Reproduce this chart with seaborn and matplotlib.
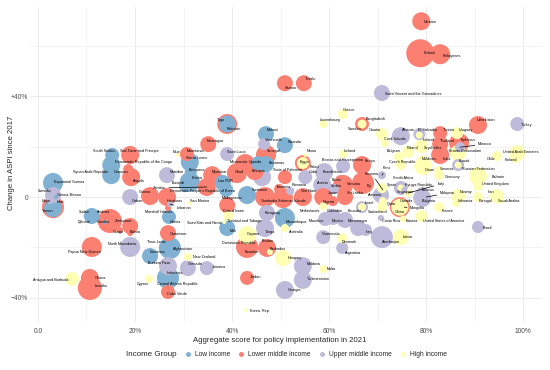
import matplotlib
matplotlib.use("Agg")
import matplotlib.pyplot as plt
from matplotlib.lines import Line2D
from matplotlib.ticker import FixedLocator, FixedFormatter
import pandas as pd
import seaborn as sns

# ---- data ----
countries = [
    "Ukraine", "Kiribati", "Philippines", "Saint Vincent and the Grenadines", "Samoa", "Tuvalu", "Greece", "Luxembourg", "Bangladesh", "Sweden",
    "Togo", "Pakistan", "Malawi", "Rwanda", "Venezuela", "Nicaragua", "Mauritania", "Saint Lucia", "Iceland", "Nauru",
    "Uzbekistan", "Turkey", "Croatia", "Albania", "Cook Islands", "El Salvador", "Ireland", "Tunisia", "Uruguay", "Thailand",
    "Seychelles", "Tajikistan", "Morocco", "Brunei Darussalam", "Poland", "Belgium", "United Arab Emirates", "Chile", "Finland", "Czech Republic",
    "Maldives", "India", "Kuwait", "Russian Federation", "Slovenia", "Oman", "Germany", "Bahrain", "United Kingdom", "Peru",
    "Panama", "South Africa", "Spain", "Singapore", "Kyrgyz Republic", "Italy", "Fiji", "Vanuatu", "Armenia", "Sri Lanka",
    "Belarus", "Malaysia", "Bulgaria", "Norway", "Lithuania", "Iran", "Saudi Arabia", "Portugal", "Israel", "Ecuador",
    "China", "Canada", "Qatar", "Mongolia", "Switzerland", "France", "Costa Rica", "Estonia", "United States of America", "Brazil",
    "Latvia", "Azerbaijan", "Iraq", "Montenegro", "Bosnia and Herzegovina", "Kenya", "Kazakhstan", "Austria", "Benin", "Serbia",
    "Egypt", "Palau", "Cuba", "State of Palestine", "Tanzania", "Romania", "Solomon Islands", "Cambodia", "Viet Nam", "Japan",
    "Nigeria", "Netherlands", "Colombia", "Mexico", "Mauritius", "Guatemala", "Denmark", "Argentina", "Mozambique", "Paraguay",
    "Tonga", "Australia", "Hungary", "Moldova", "Turkmenistan", "Malta", "Georgia", "Jordan", "Korea, Rep.", "Dominican Republic",
    "Eswatini", "Bhutan", "Barbados", "Guyana", "Mali", "Trinidad and Tobago", "Cote d'Ivoire", "Saint Kitts and Nevis", "Madagascar", "Suriname",
    "Ethiopia", "Chad", "Micronesia", "Uganda", "Bahamas", "Senegal", "Myanmar", "Lao PDR", "Democratic People's Republic of Korea", "Zambia",
    "Sierra Leone", "Botswana", "Eritrea", "Burundi", "Namibia", "Sao Tome and Principe", "South Sudan", "Niue", "Democratic Republic of the Congo", "Syrian Arab Republic",
    "Comoros", "Angola", "Equatorial Guinea", "Somalia", "Guinea-Bissau", "Haiti", "Yemen", "Libya", "Sudan", "Djibouti",
    "Andorra", "Gambia", "Zimbabwe", "Congo", "Bolivia", "North Macedonia", "Papua New Guinea", "Timor-Leste", "Cameroon", "Afghanistan",
    "Dominica", "Burkina Faso", "New Zealand", "Grenada", "Jamaica", "Indonesia", "Central African Republic", "Cyprus", "Cabo Verde", "Antigua and Barbuda",
    "Ghana", "Lesotho", "Liberia", "Honduras", "Guinea", "Gabon", "Marshall Islands", "Lebanon", "San Marino",
]

# aggregate score for policy implementation in 2021 (%)
score = [
    79.0, 78.8, 82.9, 70.9, 50.9, 54.8, 62.9, 58.8, 66.8, 66.8,
    39.0, 39.0, 47.0, 50.9, 46.6, 35.1, 30.7, 39.0, 62.9, 55.1,
    90.7, 98.8, 70.9, 74.8, 71.5, 78.6, 78.6, 82.9, 86.4, 82.9,
    79.0, 86.8, 87.0, 86.6, 76.3, 74.4, 98.8, 94.6, 98.4, 74.8,
    79.2, 82.9, 86.6, 86.6, 82.5, 79.4, 82.7, 90.7, 90.7, 70.9,
    71.1, 74.8, 70.9, 74.8, 75.5, 76.3, 67.0, 62.9, 70.7, 63.3,
    79.2, 80.0, 79.2, 86.6, 86.2, 94.6, 95.1, 90.7, 66.8, 66.8,
    74.6, 74.6, 71.1, 75.5, 70.9, 82.7, 70.7, 75.3, 79.0, 90.7,
    74.8, 70.9, 67.6, 66.0, 62.9, 66.8, 59.0, 58.6, 62.3, 61.0,
    54.6, 54.6, 55.1, 50.9, 49.7, 52.0, 50.5, 46.8, 54.6, 58.8,
    60.8, 58.8, 60.8, 63.3, 59.2, 58.8, 62.7, 62.7, 50.9, 47.2,
    46.8, 50.9, 50.5, 54.6, 54.6, 58.8, 50.9, 43.1, 42.9, 43.1,
    43.1, 47.2, 47.8, 43.1, 39.0, 39.2, 39.0, 38.4, 43.1, 46.2,
    44.7, 41.0, 42.7, 45.4, 47.0, 47.0, 35.9, 38.1, 38.8, 34.8,
    31.3, 31.5, 31.3, 30.3, 26.6, 19.0, 15.3, 28.9, 15.1, 15.1,
    18.6, 19.2, 3.1, 3.1, 3.7, 3.1, 3.1, 2.5, 11.1, 11.1,
    14.8, 13.8, 19.0, 16.9, 19.0, 19.0, 11.1, 26.8, 26.8, 27.2,
    23.1, 26.8, 30.9, 30.9, 34.8, 26.8, 26.2, 22.9, 26.8, 7.0,
    10.7, 10.7, 27.0, 26.6, 23.1, 19.0, 26.8, 27.2, 31.3,
]

# change in ASPI since 2017 (%)
change = [
    69.8, 57.1, 56.7, 41.3, 45.2, 45.2, 32.9, 29.0, 29.0, 29.0,
    29.0, 29.0, 25.0, 20.6, 21.0, 21.0, 17.1, 17.1, 17.1, 16.7,
    28.6, 29.0, 25.0, 24.2, 21.4, 25.0, 24.6, 25.4, 25.4, 21.0,
    20.2, 21.4, 19.8, 17.5, 17.9, 15.9, 17.5, 16.3, 15.5, 12.7,
    14.7, 16.7, 12.7, 12.7, 10.7, 12.3, 8.7, 8.3, 4.4, 8.7,
    2.8, 3.6, 3.6, 3.6, 2.8, 1.6, 5.6, 4.8, 0.8, 0.0,
    1.6, 0.0, -0.4, 0.4, -2.4, 0.4, -1.2, 0.0, -4.0, -4.0,
    -4.0, -4.0, -1.6, -4.0, -4.0, -4.0, -8.3, -8.7, -7.5, -11.9,
    -15.9, -15.9, -13.1, -12.3, 12.3, 12.7, 9.9, 4.8, 6.7, 3.2,
    13.5, 13.5, 7.9, 7.9, 3.2, 2.4, -0.4, 0.0, 0.0, 0.0,
    -1.6, -3.6, -7.9, -9.1, -8.7, -15.9, -16.3, -20.2, -8.3, -6.3,
    -12.3, -12.3, -24.2, -27.4, -32.9, -28.6, -36.9, -32.1, -44.8, -19.8,
    -21.0, -20.2, -21.8, -15.1, -12.3, -7.5, -3.2, -9.9, 0.8, 7.9,
    10.3, 9.5, 13.1, 13.5, 13.1, 16.7, 8.7, 5.6, 2.8, 4.0,
    13.9, 9.9, 6.0, 4.4, 8.7, 16.7, 16.7, 16.7, 12.7, 8.7,
    11.1, 7.9, 5.6, 0.8, 0.0, -4.0, -4.4, -2.0, -7.5, -9.1,
    -9.5, -9.9, -11.5, -13.1, -14.3, -19.8, -19.8, -15.1, -14.3, -20.2,
    -23.4, -27.4, -23.8, -28.2, -28.2, -32.1, -33.7, -32.5, -37.7, -32.5,
    -32.1, -36.1, -7.9, 0.0, 0.4, 0.0, -4.4, -2.8, -2.4,
]

# bubble weight (relative, mapped to marker area)
weight = [
    81, 196, 100, 64, 64, 64, 25, 16, 49, 20,
    100, 72, 64, 64, 36, 64, 49, 49, 16, 4,
    81, 49, 36, 81, 16, 36, 12, 49, 36, 64,
    49, 100, 25, 64, 36, 25, 64, 25, 25, 25,
    25, 81, 36, 12, 16, 81, 25, 81, 25, 16,
    9, 49, 25, 12, 9, 16, 121, 100, 64, 64,
    36, 16, 81, 49, 16, 49, 16, 25, 16, 36,
    100, 72, 16, 6, 25, 25, 9, 12, 36, 36,
    64, 121, 36, 64, 49, 81, 81, 81, 25, 25,
    64, 36, 49, 49, 25, 16, 100, 100, 81, 81,
    25, 16, 64, 64, 49, 49, 25, 36, 100, 64,
    81, 16, 64, 81, 81, 16, 81, 49, 4, 121,
    25, 81, 9, 81, 64, 25, 64, 4, 81, 81,
    81, 100, 100, 49, 64, 100, 81, 64, 49, 81,
    81, 36, 100, 36, 64, 81, 49, 4, 81, 81,
    25, 81, 100, 64, 4, 121, 81, 4, 64, 4,
    144, 4, 64, 9, 9, 100, 100, 9, 64, 121,
    64, 81, 16, 64, 49, 121, 9, 16, 49, 49,
    81, 144, 49, 81, 81, 64, 9, 9, 4,
]

income = [
    "LM", "LM", "LM", "UM", "LM", "LM", "H", "H", "LM", "H",
    "LM", "L", "L", "L", "UM", "LM", "LM", "UM", "H", "H",
    "LM", "UM", "H", "UM", "H", "UM", "H", "LM", "H", "LM",
    "H", "LM", "UM", "H", "H", "H", "H", "H", "H", "H",
    "H", "LM", "UM", "H", "H", "H", "H", "H", "H", "UM",
    "H", "UM", "H", "H", "UM", "H", "LM", "LM", "UM", "LM",
    "UM", "UM", "UM", "H", "H", "H", "H", "H", "H", "UM",
    "LM", "H", "H", "H", "H", "H", "UM", "H", "H", "UM",
    "H", "UM", "UM", "UM", "UM", "LM", "UM", "UM", "LM", "UM",
    "LM", "H", "UM", "LM", "LM", "UM", "LM", "LM", "LM", "LM",
    "LM", "H", "UM", "UM", "UM", "UM", "H", "UM", "L", "UM",
    "UM", "H", "H", "UM", "UM", "H", "UM", "LM", "H", "LM",
    "LM", "LM", "H", "H", "L", "H", "LM", "H", "L", "UM",
    "LM", "LM", "LM", "L", "L", "LM", "LM", "L", "L", "LM",
    "L", "L", "L", "L", "UM", "LM", "L", "H", "L", "L",
    "LM", "LM", "L", "UM", "L", "LM", "L", "UM", "L", "L",
    "LM", "L", "LM", "LM", "LM", "UM", "LM", "LM", "LM", "L",
    "L", "UM", "H", "UM", "UM", "L", "L", "H", "LM", "H",
    "LM", "LM", "L", "LM", "LM", "UM", "LM", "UM", "H",
]

group_names = {"L": "Low income", "LM": "Lower middle income",
               "UM": "Upper middle income", "H": "High income"}
group_order = ["Low income", "Lower middle income", "Upper middle income", "High income"]
palette = {"Low income": "#80B1D3", "Lower middle income": "#FB8072",
           "Upper middle income": "#BEBADA", "High income": "#FFFFB3"}

# label placement (pixel offset of the label start from the point, y down)
label_nudge = {
    "Ukraine": (3, 1), "Kiribati": (3, 0), "Philippines": (3, 2), "Saint Vincent and the Grenadines": (3, 1),
    "Samoa": (0, 5), "Tuvalu": (1, -4), "Greece": (0, -4), "Luxembourg": (-3, -4), "Bangladesh": (4, -5),
    "Sweden": (-14, 5), "Togo": (-10, -4), "Pakistan": (0, 5), "Malawi": (1, -4), "Rwanda": (3, -3),
    "Venezuela": (1, -4), "Nicaragua": (-2, -3), "Mauritania": (0, -3), "Saint Lucia": (0, -2),
    "Iceland": (1, -3), "Nauru": (1, -4), "Uzbekistan": (-1, -5), "Turkey": (4, 1), "Croatia": (-13, -4),
    "Albania": (1, -6), "Cook Islands": (-1, -4), "El Salvador": (-1, -4), "Ireland": (3, 5), "Tunisia": (3, -3),
    "Uruguay": (2, -3), "Thailand": (0, -3), "Seychelles": (3, 2), "Tajikistan": (1, -3), "Morocco": (18, -3),
    "Brunei Darussalam": (-9, -2), "Poland": (-1, -4), "Belgium": (-12, -6), "United Arab Emirates": (-14, -1),
    "Chile": (-10, 3), "Finland": (-11, 2), "Czech Republic": (-12, -3), "Maldives": (0, -1), "India": (2, 4),
    "Kuwait": (1, -4), "Russian Federation": (4, 4), "Slovenia": (2, -1), "Oman": (2, 4), "Germany": (6, 2),
    "Bahrain": (14, 1), "United Kingdom": (4, -2), "Peru": (1, -7), "Panama": (-18, -16), "South Africa": (-8, -10),
    "Spain": (5, -3), "Singapore": (-4, 4), "Kyrgyz Republic": (1, -5), "Italy": (29, -9), "Fiji": (4, 3),
    "Vanuatu": (4, -1), "Armenia": (-13, 0), "Sri Lanka": (2, -4), "Belarus": (0, -3), "Malaysia": (14, -4),
    "Bulgaria": (0, 3), "Norway": (2, -4), "Lithuania": (2, -2), "Iran": (-9, -4), "Saudi Arabia": (-1, 1),
    "Portugal": (1, 4), "Israel": (3, -4), "Ecuador": (-14, 4), "China": (-5, 5), "Canada": (0, -6),
    "Qatar": (4, 3), "Mongolia": (6, 1), "Switzerland": (-14, 5), "France": (3, 4), "Costa Rica": (1, 3),
    "Estonia": (2, 2), "United States of America": (2, 5), "Brazil": (5, 1), "Latvia": (2, 0), "Azerbaijan": (0, 5),
    "Iraq": (0, 2), "Montenegro": (-10, -7), "Bosnia and Herzegovina": (-21, -6), "Kenya": (3, -4),
    "Kazakhstan": (-1, 0), "Austria": (-5, -2), "Benin": (-8, 0), "Serbia": (-3, -3), "Egypt": (-3, -1),
    "Palau": (7, 4), "Cuba": (3, -5), "State of Palestine": (-12, -7), "Tanzania": (-3, -2), "Romania": (2, -6),
    "Solomon Islands": (-5, 3), "Cambodia": (-4, 4), "Viet Nam": (-2, -6), "Japan": (5, -4), "Nigeria": (-10, 1),
    "Netherlands": (-23, 5), "Colombia": (-6, -6), "Mexico": (-13, 1), "Mauritius": (-16, 2), "Guatemala": (-1, -3),
    "Denmark": (0, 4), "Argentina": (3, 5), "Mozambique": (1, 4), "Paraguay": (-2, 0), "Tonga": (0, 4),
    "Australia": (4, 4), "Hungary": (5, 0), "Moldova": (4, -2), "Turkmenistan": (4, -1), "Malta": (4, 0),
    "Georgia": (3, 0), "Jordan": (3, -1), "Korea, Rep.": (4, 1), "Dominican Republic": (-25, -4), "Eswatini": (-2, 2),
    "Bhutan": (-5, -7), "Barbados": (0, -3), "Guyana": (0, -1), "Mali": (3, 3), "Trinidad and Tobago": (-1, 5),
    "Cote d'Ivoire": (-4, 6), "Saint Kitts and Nevis": (-37, 1), "Madagascar": (-25, 3), "Suriname": (-10, 13),
    "Ethiopia": (-3, 0), "Chad": (-2, -1), "Micronesia": (-15, -2), "Uganda": (-9, -1), "Bahamas": (3, -1),
    "Senegal": (1, -4), "Myanmar": (0, -3), "Lao PDR": (-5, -2), "Democratic People's Republic of Korea": (-56, 1),
    "Zambia": (-54, 1), "Sierra Leone": (-4, -4), "Botswana": (-2, -2), "Eritrea": (2, -4), "Burundi": (-13, -3),
    "Namibia": (3, -3), "Sao Tome and Principe": (-10, -4), "South Sudan": (-19, -4), "Niue": (-5, -3),
    "Democratic Republic of the Congo": (4, -3), "Syrian Arab Republic": (-38, -3), "Comoros": (-14, 3),
    "Angola": (2, 4), "Equatorial Guinea": (1, -1), "Somalia": (-15, -4), "Guinea-Bissau": (1, -2), "Haiti": (4, -5),
    "Yemen": (-11, 3), "Libya": (-8, -1), "Sudan": (-13, -4), "Djibouti": (-14, 2), "Andorra": (-13, -9),
    "Gambia": (-8, 0), "Zimbabwe": (-15, -5), "Congo": (-7, 2), "Bolivia": (0, -1), "North Macedonia": (-22, -3),
    "Papua New Guinea": (-24, 5), "Timor-Leste": (-21, 7), "Cameroon": (2, 1), "Afghanistan": (3, 1),
    "Dominica": (0, -4), "Burkina Faso": (-20, -3), "New Zealand": (5, 0), "Grenada": (0, -4), "Jamaica": (5, -1),
    "Indonesia": (-1, -5), "Central African Republic": (-8, 2), "Cyprus": (-12, 5), "Cabo Verde": (-1, 2),
    "Antigua and Barbuda": (-39, 1), "Ghana": (5, 0), "Lesotho": (5, -2), "Liberia": (1, 5), "Honduras": (0, 4),
    "Guinea": (-11, -4), "Gabon": (2, 4), "Marshall Islands": (-23, 4), "Lebanon": (7, 4), "San Marino": (0, -2),
}
with_segment = {"Morocco", "Peru", "Panama", "Italy", "Malaysia", "Mongolia", "Zambia", "Lebanon"}

assert len(countries) == len(score) == len(change) == len(weight) == len(income)

df = pd.DataFrame({
    "country": countries,
    "score": score,
    "change": change,
    "weight": weight,
    "income": [group_names[g] for g in income],
})
# big bubbles first so small ones stay visible on top
df = df.sort_values("weight", ascending=False, kind="stable")

sns.set_theme(style="white")
plt.rcParams["font.family"] = ["Liberation Sans", "DejaVu Sans"]

fig = plt.figure(figsize=(5.5, 3.7), dpi=100)
ax = fig.add_axes([0.0545, 0.1297, 0.931, 0.851])

k = (2 * 0.72) ** 2  # px radius^2 -> points^2
wmin, wmax = min(weight), max(weight)
sns.scatterplot(
    data=df, x="score", y="change",
    hue="income", hue_order=group_order, palette=palette,
    size="weight", sizes=(k * wmin, k * wmax), size_norm=(wmin, wmax),
    linewidth=0, alpha=1, legend=False, ax=ax, zorder=3,
)

for _, row in df.iterrows():
    dx, dy = label_nudge.get(row["country"], (1, -3))
    arrow = None
    if row["country"] in with_segment:
        arrow = dict(arrowstyle="-", lw=0.5, color="black", shrinkA=0, shrinkB=0)
    ax.annotate(row["country"], (row["score"], row["change"]),
                xytext=(dx * 0.72, -dy * 0.72), textcoords="offset points",
                ha="left", va="center", fontsize=2.7, color="black",
                zorder=5, arrowprops=arrow)

ax.set_xlim(-1.65, 103.9)
ax.set_ylim(-49.6, 75.4)
ax.xaxis.set_major_locator(FixedLocator([0, 20, 40, 60, 80, 100]))
ax.xaxis.set_major_formatter(FixedFormatter(["0.0", "20%", "40%", "60%", "80%", "100%"]))
ax.xaxis.set_minor_locator(FixedLocator([10, 30, 50, 70, 90]))
ax.yaxis.set_major_locator(FixedLocator([-40, 0, 40]))
ax.yaxis.set_major_formatter(FixedFormatter(["\u221240%", "0", "+40%"]))
ax.yaxis.set_minor_locator(FixedLocator([-20, 20, 60]))
ax.grid(which="major", color="#EBEBEB", linewidth=0.7)
ax.grid(which="minor", color="#EBEBEB", linewidth=0.4)
ax.set_axisbelow(True)
for s in ax.spines.values():
    s.set_visible(False)
ax.tick_params(which="both", length=0, labelsize=4.8, labelcolor="#4D4D4D")
ax.tick_params(axis="x", pad=4)
ax.tick_params(axis="y", pad=1.5)
ax.set_xlabel("")
ax.set_ylabel("")

fig.text(280 / 550, 1 - 341 / 370, "Aggregate score for policy implementation in 2021",
         ha="center", va="center", fontsize=5.6)
fig.text(12 / 550, 1 - 163 / 370, "Change in ASPI since 2017",
         ha="center", va="center", rotation=90, fontsize=5.6)

legend_y = 1 - 355 / 370
handles = [Line2D([], [], marker="o", linestyle="", markersize=3.6,
                  markerfacecolor=palette[g], markeredgewidth=0) for g in group_order]
fig.legend(handles, group_order, loc="center left", bbox_to_anchor=(184.7 / 550, legend_y),
           ncol=4, frameon=False, fontsize=4.8, handlelength=1, handletextpad=0.55,
           columnspacing=1.15, borderpad=0, borderaxespad=0)
fig.text(151 / 550, legend_y, "Income Group", ha="center", va="center", fontsize=5.8)

fig.savefig("out.png", dpi=100)
